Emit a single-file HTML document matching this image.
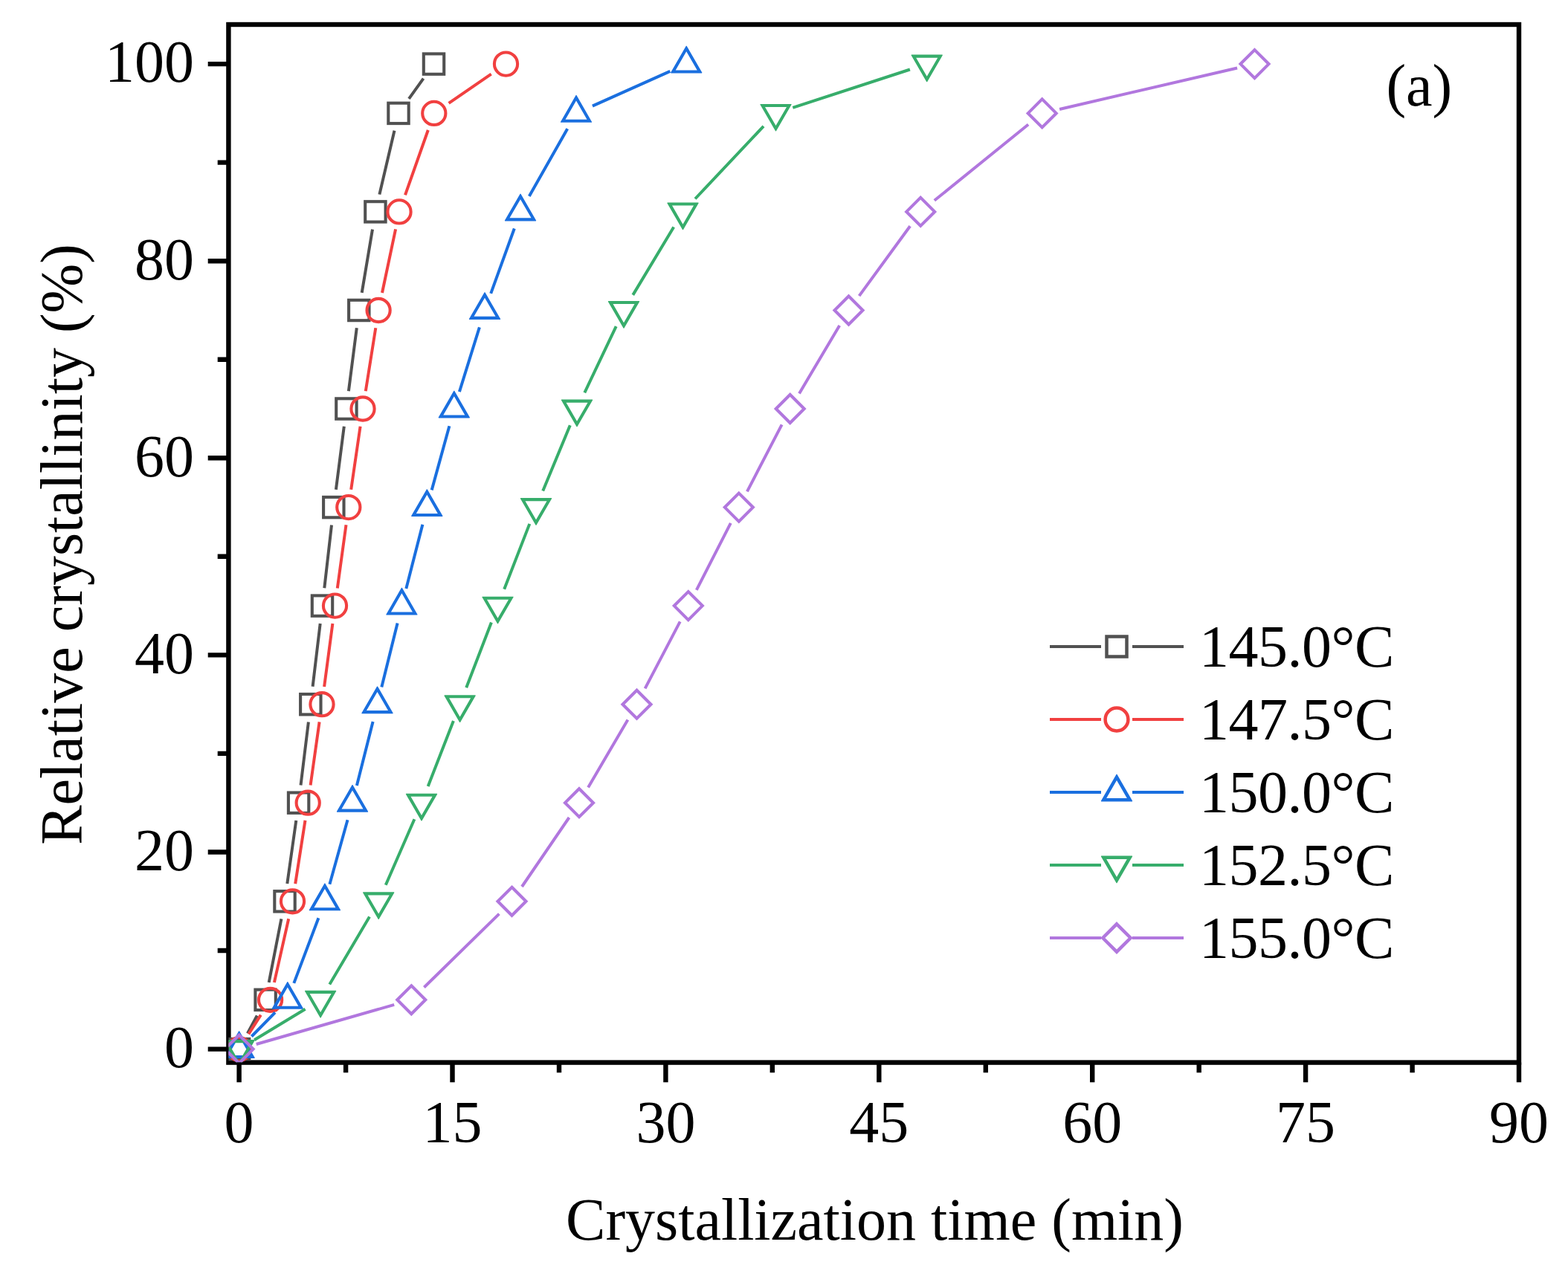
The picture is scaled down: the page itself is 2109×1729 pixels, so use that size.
<!DOCTYPE html>
<html><head><meta charset="utf-8"><title>Relative crystallinity vs crystallization time</title>
<style>html,body{margin:0;padding:0;background:#fff;}svg{display:block;}</style></head>
<body>
<svg width="2109" height="1729" viewBox="0 0 2109 1729">
<rect width="2109" height="1729" fill="#fff"/>
<defs><clipPath id="pc"><rect x="307.4" y="33.0" width="1735.6" height="1396.6"/></clipPath></defs>
<rect x="307.4" y="33.0" width="1735.6" height="1396.6" fill="none" stroke="#000" stroke-width="6.4"/>
<g clip-path="url(#pc)">
<path d="M332.9 1390.4L345.8 1366.5M361.7 1321.8L378.4 1236.3M386.3 1189.0L398.3 1104.0M404.5 1056.4L414.9 971.5M420.6 923.8L430.7 839.0M436.3 791.3L446.0 706.4M451.9 658.8L462.8 573.8M468.9 526.2L479.8 441.3M486.7 393.8L501.0 308.6M510.4 261.6L530.5 175.7M550.0 132.9L569.5 105.6" fill="none" stroke="#515151" stroke-width="4.0"/>
<rect x="307.9" y="1397.9" width="27.4" height="27.4" fill="none" stroke="#515151" stroke-width="4.1"/>
<rect x="343.4" y="1331.6" width="27.4" height="27.4" fill="none" stroke="#515151" stroke-width="4.1"/>
<rect x="369.3" y="1199.1" width="27.4" height="27.4" fill="none" stroke="#515151" stroke-width="4.1"/>
<rect x="387.9" y="1066.5" width="27.4" height="27.4" fill="none" stroke="#515151" stroke-width="4.1"/>
<rect x="404.1" y="934.0" width="27.4" height="27.4" fill="none" stroke="#515151" stroke-width="4.1"/>
<rect x="419.8" y="801.4" width="27.4" height="27.4" fill="none" stroke="#515151" stroke-width="4.1"/>
<rect x="435.1" y="668.9" width="27.4" height="27.4" fill="none" stroke="#515151" stroke-width="4.1"/>
<rect x="452.2" y="536.3" width="27.4" height="27.4" fill="none" stroke="#515151" stroke-width="4.1"/>
<rect x="469.1" y="403.8" width="27.4" height="27.4" fill="none" stroke="#515151" stroke-width="4.1"/>
<rect x="491.2" y="271.2" width="27.4" height="27.4" fill="none" stroke="#515151" stroke-width="4.1"/>
<rect x="522.3" y="138.7" width="27.4" height="27.4" fill="none" stroke="#515151" stroke-width="4.1"/>
<rect x="569.8" y="72.4" width="27.4" height="27.4" fill="none" stroke="#515151" stroke-width="4.1"/>
<path d="M334.4 1391.3L350.8 1365.6M368.9 1321.9L388.2 1236.2M397.2 1189.1L410.5 1103.9M417.6 1056.5L429.6 971.4M436.1 923.9L447.4 838.9M453.8 791.4L465.5 706.3M472.2 658.8L484.6 573.8M491.8 526.3L505.3 441.2M514.0 394.0L532.1 308.4M545.0 262.3L575.8 175.0M603.6 138.8L660.7 99.7" fill="none" stroke="#F14040" stroke-width="4.0"/>
<circle cx="321.6" cy="1411.6" r="15.6" fill="none" stroke="#F14040" stroke-width="4.1"/>
<circle cx="363.6" cy="1345.3" r="15.6" fill="none" stroke="#F14040" stroke-width="4.1"/>
<circle cx="393.5" cy="1212.8" r="15.6" fill="none" stroke="#F14040" stroke-width="4.1"/>
<circle cx="414.2" cy="1080.2" r="15.6" fill="none" stroke="#F14040" stroke-width="4.1"/>
<circle cx="433.0" cy="947.7" r="15.6" fill="none" stroke="#F14040" stroke-width="4.1"/>
<circle cx="450.5" cy="815.1" r="15.6" fill="none" stroke="#F14040" stroke-width="4.1"/>
<circle cx="468.8" cy="682.6" r="15.6" fill="none" stroke="#F14040" stroke-width="4.1"/>
<circle cx="488.0" cy="550.0" r="15.6" fill="none" stroke="#F14040" stroke-width="4.1"/>
<circle cx="509.1" cy="417.5" r="15.6" fill="none" stroke="#F14040" stroke-width="4.1"/>
<circle cx="537.0" cy="284.9" r="15.6" fill="none" stroke="#F14040" stroke-width="4.1"/>
<circle cx="583.8" cy="152.4" r="15.6" fill="none" stroke="#F14040" stroke-width="4.1"/>
<circle cx="680.5" cy="86.1" r="15.6" fill="none" stroke="#F14040" stroke-width="4.1"/>
<path d="M338.4 1394.5L370.0 1362.4M395.3 1322.9L428.4 1235.2M443.4 1189.7L467.5 1103.3M479.9 1057.0L501.6 970.9M513.3 924.4L534.6 838.4M546.3 791.9L568.4 705.8M580.7 659.4L604.4 573.2M617.9 527.1L644.9 440.4M660.2 394.9L691.8 307.5M711.8 264.0L763.2 173.3M796.9 142.6L901.3 95.9" fill="none" stroke="#1A6FDF" stroke-width="4.0"/>
<path d="M322.00 1387.35L321.20 1387.35L300.40 1423.37L300.80 1424.07L342.40 1424.07L342.80 1423.37ZM321.60 1394.85L307.09 1419.97L336.11 1419.97Z" fill="#1A6FDF" fill-rule="evenodd"/>
<path d="M387.20 1321.07L386.40 1321.07L365.60 1357.10L366.00 1357.80L407.60 1357.80L408.00 1357.10ZM386.80 1328.57L372.29 1353.70L401.31 1353.70Z" fill="#1A6FDF" fill-rule="evenodd"/>
<path d="M437.30 1188.52L436.50 1188.52L415.70 1224.55L416.10 1225.25L457.70 1225.25L458.10 1224.55ZM436.90 1196.02L422.39 1221.15L451.41 1221.15Z" fill="#1A6FDF" fill-rule="evenodd"/>
<path d="M474.40 1055.97L473.60 1055.97L452.80 1092.00L453.20 1092.70L494.80 1092.70L495.20 1092.00ZM474.00 1063.47L459.49 1088.60L488.51 1088.60Z" fill="#1A6FDF" fill-rule="evenodd"/>
<path d="M507.90 923.42L507.10 923.42L486.30 959.45L486.70 960.15L528.30 960.15L528.70 959.45ZM507.50 930.92L492.99 956.05L522.01 956.05Z" fill="#1A6FDF" fill-rule="evenodd"/>
<path d="M540.80 790.87L540.00 790.87L519.20 826.90L519.60 827.60L561.20 827.60L561.60 826.90ZM540.40 798.37L525.89 823.50L554.91 823.50Z" fill="#1A6FDF" fill-rule="evenodd"/>
<path d="M574.70 658.32L573.90 658.32L553.10 694.35L553.50 695.05L595.10 695.05L595.50 694.35ZM574.30 665.82L559.79 690.95L588.81 690.95Z" fill="#1A6FDF" fill-rule="evenodd"/>
<path d="M611.20 525.77L610.40 525.77L589.60 561.80L590.00 562.50L631.60 562.50L632.00 561.80ZM610.80 533.27L596.29 558.40L625.31 558.40Z" fill="#1A6FDF" fill-rule="evenodd"/>
<path d="M652.40 393.22L651.60 393.22L630.80 429.25L631.20 429.95L672.80 429.95L673.20 429.25ZM652.00 400.72L637.49 425.85L666.51 425.85Z" fill="#1A6FDF" fill-rule="evenodd"/>
<path d="M700.40 260.67L699.60 260.67L678.80 296.70L679.20 297.40L720.80 297.40L721.20 296.70ZM700.00 268.17L685.49 293.30L714.51 293.30Z" fill="#1A6FDF" fill-rule="evenodd"/>
<path d="M775.40 128.12L774.60 128.12L753.80 164.15L754.20 164.85L795.80 164.85L796.20 164.15ZM775.00 135.62L760.49 160.75L789.51 160.75Z" fill="#1A6FDF" fill-rule="evenodd"/>
<path d="M923.60 61.85L922.80 61.85L902.00 97.87L902.40 98.57L944.00 98.57L944.40 97.87ZM923.20 69.35L908.69 94.47L937.71 94.47Z" fill="#1A6FDF" fill-rule="evenodd"/>
<path d="M342.1 1399.2L410.6 1357.8M443.3 1324.6L497.0 1233.5M518.8 1190.8L557.4 1102.2M575.7 1057.9L609.9 970.0M627.2 925.3L660.9 837.5M678.2 792.8L712.3 704.9M730.2 660.4L766.8 572.2M786.3 528.3L828.7 439.2M851.3 396.9L906.2 305.5M935.0 267.5L1027.0 169.8M1066.3 144.9L1223.9 93.5" fill="none" stroke="#37AD6B" stroke-width="4.0"/>
<path d="M322.00 1435.85L321.20 1435.85L300.40 1399.83L300.80 1399.12L342.40 1399.12L342.80 1399.83ZM321.60 1428.35L307.09 1403.22L336.11 1403.22Z" fill="#37AD6B" fill-rule="evenodd"/>
<path d="M431.50 1369.57L430.70 1369.57L409.90 1333.55L410.30 1332.85L451.90 1332.85L452.30 1333.55ZM431.10 1362.07L416.59 1336.95L445.61 1336.95Z" fill="#37AD6B" fill-rule="evenodd"/>
<path d="M509.60 1237.02L508.80 1237.02L488.00 1201.00L488.40 1200.30L530.00 1200.30L530.40 1201.00ZM509.20 1229.52L494.69 1204.40L523.71 1204.40Z" fill="#37AD6B" fill-rule="evenodd"/>
<path d="M567.40 1104.47L566.60 1104.47L545.80 1068.45L546.20 1067.75L587.80 1067.75L588.20 1068.45ZM567.00 1096.97L552.49 1071.85L581.51 1071.85Z" fill="#37AD6B" fill-rule="evenodd"/>
<path d="M619.00 971.92L618.20 971.92L597.40 935.90L597.80 935.20L639.40 935.20L639.80 935.90ZM618.60 964.42L604.09 939.30L633.11 939.30Z" fill="#37AD6B" fill-rule="evenodd"/>
<path d="M669.90 839.37L669.10 839.37L648.30 803.35L648.70 802.65L690.30 802.65L690.70 803.35ZM669.50 831.87L654.99 806.75L684.01 806.75Z" fill="#37AD6B" fill-rule="evenodd"/>
<path d="M721.40 706.82L720.60 706.82L699.80 670.80L700.20 670.10L741.80 670.10L742.20 670.80ZM721.00 699.32L706.49 674.20L735.51 674.20Z" fill="#37AD6B" fill-rule="evenodd"/>
<path d="M776.40 574.27L775.60 574.27L754.80 538.25L755.20 537.55L796.80 537.55L797.20 538.25ZM776.00 566.77L761.49 541.65L790.51 541.65Z" fill="#37AD6B" fill-rule="evenodd"/>
<path d="M839.40 441.72L838.60 441.72L817.80 405.70L818.20 405.00L859.80 405.00L860.20 405.70ZM839.00 434.22L824.49 409.10L853.51 409.10Z" fill="#37AD6B" fill-rule="evenodd"/>
<path d="M918.90 309.17L918.10 309.17L897.30 273.15L897.70 272.45L939.30 272.45L939.70 273.15ZM918.50 301.67L903.99 276.55L933.01 276.55Z" fill="#37AD6B" fill-rule="evenodd"/>
<path d="M1043.90 176.62L1043.10 176.62L1022.30 140.60L1022.70 139.90L1064.30 139.90L1064.70 140.60ZM1043.50 169.12L1028.99 144.00L1058.01 144.00Z" fill="#37AD6B" fill-rule="evenodd"/>
<path d="M1247.10 110.35L1246.30 110.35L1225.50 74.32L1225.90 73.62L1267.50 73.62L1267.90 74.32ZM1246.70 102.85L1232.19 77.72L1261.21 77.72Z" fill="#37AD6B" fill-rule="evenodd"/>
<path d="M344.7 1405.0L530.2 1351.9M570.4 1328.5L671.4 1229.6M702.0 1193.0L765.5 1100.0M791.1 1059.5L844.4 968.4M867.6 926.4L914.7 836.4M936.8 793.8L982.8 703.9M1004.9 661.3L1051.6 571.3M1075.0 529.4L1129.2 438.1M1155.6 398.1L1224.1 304.3M1256.8 269.8L1383.1 167.5M1425.1 147.0L1664.1 91.5" fill="none" stroke="#B177DE" stroke-width="4.0"/>
<path d="M321.6 1392.6L340.6 1411.6L321.6 1430.6L302.6 1411.6Z" fill="none" stroke="#B177DE" stroke-width="4.1" stroke-linejoin="miter"/>
<path d="M553.3 1326.3L572.3 1345.3L553.3 1364.3L534.3 1345.3Z" fill="none" stroke="#B177DE" stroke-width="4.1" stroke-linejoin="miter"/>
<path d="M688.5 1193.8L707.5 1212.8L688.5 1231.8L669.5 1212.8Z" fill="none" stroke="#B177DE" stroke-width="4.1" stroke-linejoin="miter"/>
<path d="M779.0 1061.2L798.0 1080.2L779.0 1099.2L760.0 1080.2Z" fill="none" stroke="#B177DE" stroke-width="4.1" stroke-linejoin="miter"/>
<path d="M856.5 928.7L875.5 947.7L856.5 966.7L837.5 947.7Z" fill="none" stroke="#B177DE" stroke-width="4.1" stroke-linejoin="miter"/>
<path d="M925.8 796.1L944.8 815.1L925.8 834.1L906.8 815.1Z" fill="none" stroke="#B177DE" stroke-width="4.1" stroke-linejoin="miter"/>
<path d="M993.8 663.6L1012.8 682.6L993.8 701.6L974.8 682.6Z" fill="none" stroke="#B177DE" stroke-width="4.1" stroke-linejoin="miter"/>
<path d="M1062.7 531.0L1081.7 550.0L1062.7 569.0L1043.7 550.0Z" fill="none" stroke="#B177DE" stroke-width="4.1" stroke-linejoin="miter"/>
<path d="M1141.5 398.5L1160.5 417.5L1141.5 436.5L1122.5 417.5Z" fill="none" stroke="#B177DE" stroke-width="4.1" stroke-linejoin="miter"/>
<path d="M1238.2 265.9L1257.2 284.9L1238.2 303.9L1219.2 284.9Z" fill="none" stroke="#B177DE" stroke-width="4.1" stroke-linejoin="miter"/>
<path d="M1401.7 133.4L1420.7 152.4L1401.7 171.4L1382.7 152.4Z" fill="none" stroke="#B177DE" stroke-width="4.1" stroke-linejoin="miter"/>
<path d="M1687.5 67.1L1706.5 86.1L1687.5 105.1L1668.5 86.1Z" fill="none" stroke="#B177DE" stroke-width="4.1" stroke-linejoin="miter"/>
</g>
<path d="M321.6 1429.6V1456.3M465.1 1429.6V1443.3M608.5 1429.6V1456.3M752.0 1429.6V1443.3M895.4 1429.6V1456.3M1038.8 1429.6V1443.3M1182.3 1429.6V1456.3M1325.8 1429.6V1443.3M1469.2 1429.6V1456.3M1612.7 1429.6V1443.3M1756.1 1429.6V1456.3M1899.6 1429.6V1443.3M2043.0 1429.6V1456.3M307.4 1411.6H279.7M307.4 1279.0H292.7M307.4 1146.5H279.7M307.4 1013.9H292.7M307.4 881.4H279.7M307.4 748.8H292.7M307.4 616.3H279.7M307.4 483.7H292.7M307.4 351.2H279.7M307.4 218.6H292.7M307.4 86.1H279.7" stroke="#000" stroke-width="6.4" fill="none"/>
<g font-family="Liberation Serif, serif" font-size="80" fill="#000">
<text x="321.6" y="1536.6" text-anchor="middle">0</text>
<text x="608.5" y="1536.6" text-anchor="middle">15</text>
<text x="895.4" y="1536.6" text-anchor="middle">30</text>
<text x="1182.3" y="1536.6" text-anchor="middle">45</text>
<text x="1469.2" y="1536.6" text-anchor="middle">60</text>
<text x="1756.1" y="1536.6" text-anchor="middle">75</text>
<text x="2043.0" y="1536.6" text-anchor="middle">90</text>
<text x="261" y="1435.9" text-anchor="end">0</text>
<text x="261" y="1170.8" text-anchor="end">20</text>
<text x="261" y="905.7" text-anchor="end">40</text>
<text x="261" y="640.6" text-anchor="end">60</text>
<text x="261" y="375.5" text-anchor="end">80</text>
<text x="261" y="110.4" text-anchor="end">100</text>
<text x="1176.5" y="1667.6" text-anchor="middle">Crystallization time (min)</text>
<text transform="translate(110 732.5) rotate(-90)" text-anchor="middle">Relative crystallinity (%)</text>
<text x="1864.4" y="142">(a)</text>
</g>
<g font-family="Liberation Serif, serif" font-size="80" fill="#000">
<path d="M1412 870H1481M1523 870H1592" stroke="#515151" stroke-width="4" fill="none"/>
<rect x="1488.5" y="856.5" width="27.0" height="27.0" fill="none" stroke="#515151" stroke-width="4.5"/>
<text x="1613" y="897.0" letter-spacing="-0.5">145.0°C</text>
<path d="M1412 968H1481M1523 968H1592" stroke="#F14040" stroke-width="4" fill="none"/>
<circle cx="1502.0" cy="968.0" r="15.399999999999999" fill="none" stroke="#F14040" stroke-width="4.5"/>
<text x="1613" y="995.0" letter-spacing="-0.5">147.5°C</text>
<path d="M1412 1066H1481M1523 1066H1592" stroke="#1A6FDF" stroke-width="4" fill="none"/>
<path d="M1502.40 1041.75L1501.60 1041.75L1480.80 1077.77L1481.20 1078.47L1522.80 1078.47L1523.20 1077.77ZM1502.00 1050.05L1488.19 1073.97L1515.81 1073.97Z" fill="#1A6FDF" fill-rule="evenodd"/>
<text x="1613" y="1093.0" letter-spacing="-0.5">150.0°C</text>
<path d="M1412 1164H1481M1523 1164H1592" stroke="#37AD6B" stroke-width="4" fill="none"/>
<path d="M1502.40 1188.25L1501.60 1188.25L1480.80 1152.23L1481.20 1151.53L1522.80 1151.53L1523.20 1152.23ZM1502.00 1179.95L1488.19 1156.03L1515.81 1156.03Z" fill="#37AD6B" fill-rule="evenodd"/>
<text x="1613" y="1191.0" letter-spacing="-0.5">152.5°C</text>
<path d="M1412 1262H1481M1523 1262H1592" stroke="#B177DE" stroke-width="4" fill="none"/>
<path d="M1502.0 1243.3L1520.7 1262.0L1502.0 1280.7L1483.3 1262.0Z" fill="none" stroke="#B177DE" stroke-width="4.5" stroke-linejoin="miter"/>
<text x="1613" y="1289.0" letter-spacing="-0.5">155.0°C</text>
</g>
</svg>
</body></html>
